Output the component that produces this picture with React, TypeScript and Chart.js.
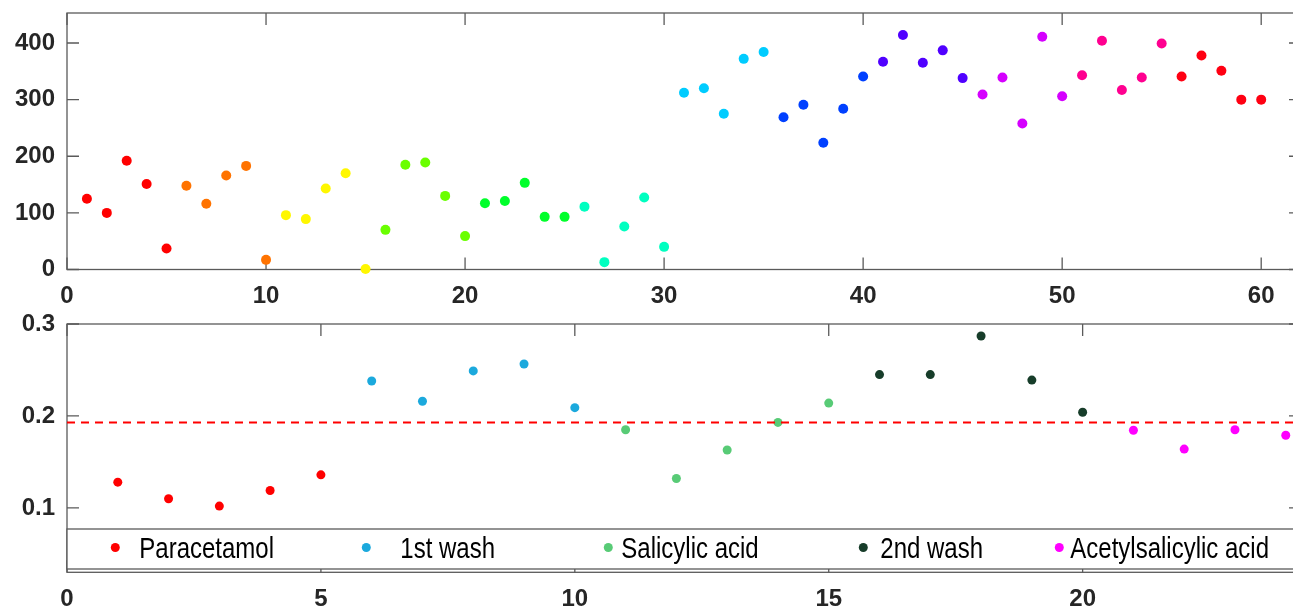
import React, { useEffect, useRef } from "react";
import { Chart, registerables } from "chart.js";

Chart.register(...registerables);

// ---------- Top panel data ----------
const TOP_X = [
  1, 2, 3, 4, 5, 6, 7, 8, 9, 10, 11, 12, 13, 14, 15, 16, 17, 18, 19, 20,
  21, 22, 23, 24, 25, 26, 27, 28, 29, 30, 31, 32, 33, 34, 35, 36, 37, 38, 39, 40,
  41, 42, 43, 44, 45, 46, 47, 48, 49, 50, 51, 52, 53, 54, 55, 56, 57, 58, 59, 60,
];
const TOP_Y = [
  125, 100, 192, 151, 37, 148, 116, 166, 183, 17,
  96, 89, 143, 170, 1, 70, 185, 189, 130, 59,
  117, 121, 153, 93, 93, 111, 13, 76, 127, 40,
  312, 320, 275, 372, 384, 269, 291, 224, 284, 341,
  367, 414, 365, 387, 338, 309, 339, 258, 411, 306,
  343, 404, 317, 339, 399, 341, 378, 351, 300, 300,
];
const TOP_GROUP_COLORS = [
  "#FF0000", "#FF7300", "#FFF700", "#6AFF00", "#00FF2B", "#00FFC0",
  "#00CCFF", "#0040FF", "#5000FF", "#D500FF", "#FF0090", "#FF0012",
];
const TOP_X_TICKS = [0, 10, 20, 30, 40, 50, 60];
const TOP_Y_TICKS = [0, 100, 200, 300, 400];
const TOP_X_RANGE = [0, 62];
const TOP_Y_RANGE = [0, 453];

// ---------- Bottom panel data ----------
const SERIES_NAMES = ["Paracetamol", "1st wash", "Salicylic acid", "2nd wash", "Acetylsalicylic acid"];
const PARACETAMOL_X = [1, 2, 3, 4, 5];
const PARACETAMOL_Y = [0.128, 0.11, 0.102, 0.119, 0.136];
const WASH1_X = [6, 7, 8, 9, 10];
const WASH1_Y = [0.238, 0.216, 0.249, 0.2565, 0.209];
const SALICYLIC_X = [11, 12, 13, 14, 15];
const SALICYLIC_Y = [0.185, 0.132, 0.163, 0.193, 0.214];
const WASH2_X = [16, 17, 18, 19, 20];
const WASH2_Y = [0.245, 0.245, 0.287, 0.239, 0.204];
const ACETYL_X = [21, 22, 23, 24];
const ACETYL_Y = [0.1845, 0.164, 0.185, 0.179];
const THRESHOLD = 0.193;
const BOTTOM_X_TICKS = [0, 5, 10, 15, 20];
const BOTTOM_Y_TICKS = [0.1, 0.2, 0.3];
const BOTTOM_X_RANGE = [0, 24.3];
const BOTTOM_Y_RANGE = [0.03, 0.3];
const SERIES_COLORS = ["#FF0000", "#1BA9DD", "#58CB76", "#173D2A", "#FF00FF"];

const FONT = "'Liberation Sans', Arial, Helvetica, sans-serif";
const AXIS_COLOR = "#5a5a5a";
const TEXT_COLOR = "#262626";
const TICK_LEN = 12;

const boxPlugin = {
  id: "boxTicks",
  beforeDatasetsDraw(chart: any, _args: any, opts: any) {
    const { ctx, chartArea: a, scales } = chart;
    ctx.save();
    ctx.strokeStyle = AXIS_COLOR;
    ctx.lineWidth = 1.3;
    ctx.strokeRect(a.left, a.top, a.right - a.left, a.bottom - a.top);
    ctx.beginPath();
    for (const v of opts.xTicks) {
      const px = scales.x.getPixelForValue(v);
      ctx.moveTo(px, a.bottom);
      ctx.lineTo(px, a.bottom - TICK_LEN);
      ctx.moveTo(px, a.top);
      ctx.lineTo(px, a.top + TICK_LEN);
    }
    for (const v of opts.yTicks) {
      const py = scales.y.getPixelForValue(v);
      ctx.moveTo(a.left, py);
      ctx.lineTo(a.left + TICK_LEN, py);
      ctx.moveTo(a.right, py);
      ctx.lineTo(a.right - TICK_LEN, py);
    }
    ctx.stroke();
    ctx.restore();
  },
};

const LEGEND_MARKER_OFFSETS = [48.3, 299.3, 541.3, 796.3, 992.3];
const LEGEND_TEXT_OFFSETS = [72.3, 333.3, 554.3, 813.3, 1003.3];

const insideLegendPlugin = {
  id: "insideLegend",
  afterDatasetsDraw(chart: any) {
    const { ctx, chartArea: a } = chart;
    const top = a.bottom - 43.3;
    const bottom = a.bottom - 3.3;
    ctx.save();
    ctx.fillStyle = "#ffffff";
    ctx.fillRect(a.left, top, a.right - a.left, bottom - top);
    ctx.strokeStyle = AXIS_COLOR;
    ctx.lineWidth = 1.3;
    ctx.strokeRect(a.left, top, a.right - a.left, bottom - top);
    const items = chart.data.datasets.filter((d: any) => d.isSeries);
    items.forEach((d: any, i: number) => {
      const mx = a.left + LEGEND_MARKER_OFFSETS[i];
      const my = a.bottom - 24.8;
      ctx.beginPath();
      ctx.fillStyle = d.backgroundColor;
      ctx.arc(mx, my, 4.5, 0, Math.PI * 2);
      ctx.fill();
      ctx.save();
      ctx.translate(a.left + LEGEND_TEXT_OFFSETS[i], a.bottom - 14);
      ctx.scale(1, 1.2);
      ctx.fillStyle = "#000000";
      ctx.font = `24px ${FONT}`;
      ctx.textBaseline = "alphabetic";
      ctx.textAlign = "left";
      ctx.fillText(d.label, 0, 0);
      ctx.restore();
    });
    ctx.restore();
  },
};

function zeroPad(s: any) {
  s.paddingTop = 0;
  s.paddingBottom = 0;
  s.paddingLeft = 0;
  s.paddingRight = 0;
}

function axisX(range: number[], ticks: number[], height: number, pad: number) {
  return {
    type: "linear",
    position: "bottom",
    min: range[0],
    max: range[1],
    grid: { display: false, drawTicks: false },
    border: { display: false },
    afterBuildTicks: (s: any) => {
      s.ticks = ticks.map((v) => ({ value: v }));
    },
    afterFit: (s: any) => {
      s.height = height;
      zeroPad(s);
    },
    ticks: {
      padding: pad,
      maxRotation: 0,
      autoSkip: false,
      color: TEXT_COLOR,
      font: { family: FONT, size: 24, weight: "bold", lineHeight: 1.2 },
      callback: (v: any) => String(v),
    },
  };
}

function axisY(range: number[], ticks: number[], width: number, pad: number) {
  return {
    type: "linear",
    position: "left",
    min: range[0],
    max: range[1],
    grid: { display: false, drawTicks: false },
    border: { display: false },
    afterBuildTicks: (s: any) => {
      s.ticks = ticks.map((v) => ({ value: v }));
    },
    afterFit: (s: any) => {
      s.width = width;
      zeroPad(s);
    },
    ticks: {
      padding: pad,
      autoSkip: false,
      color: TEXT_COLOR,
      font: { family: FONT, size: 24, weight: "bold", lineHeight: 1 },
      callback: (v: any) => String(v),
    },
  };
}

export default function App() {
  const topRef = useRef<HTMLCanvasElement>(null);
  const botRef = useRef<HTMLCanvasElement>(null);

  useEffect(() => {
    const topColors = TOP_X.map((_, i) => TOP_GROUP_COLORS[Math.floor(i / 5)]);
    const top = new Chart(topRef.current as HTMLCanvasElement, {
      type: "scatter",
      data: {
        datasets: [
          {
            label: "signal",
            data: TOP_X.map((x, i) => ({ x, y: TOP_Y[i] })),
            backgroundColor: topColors,
            pointBackgroundColor: topColors,
            pointBorderWidth: 0,
            borderWidth: 0,
            pointRadius: 5,
            clip: false,
          } as any,
        ],
      },
      options: {
        responsive: false,
        animation: false,
        devicePixelRatio: 1,
        layout: { padding: { left: 0, top: 13, right: 29, bottom: 0 } },
        plugins: {
          legend: { display: false },
          tooltip: { enabled: false },
          boxTicks: { xTicks: TOP_X_TICKS, yTicks: TOP_Y_TICKS },
        } as any,
        scales: {
          x: axisX(TOP_X_RANGE, TOP_X_TICKS, 40.5, 12),
          y: axisY(TOP_Y_RANGE, TOP_Y_TICKS, 67, 12),
        } as any,
      },
      plugins: [boxPlugin],
    });

    const series = [
      [PARACETAMOL_X, PARACETAMOL_Y],
      [WASH1_X, WASH1_Y],
      [SALICYLIC_X, SALICYLIC_Y],
      [WASH2_X, WASH2_Y],
      [ACETYL_X, ACETYL_Y],
    ];
    const bot = new Chart(botRef.current as HTMLCanvasElement, {
      type: "scatter",
      data: {
        datasets: [
          {
            type: "line",
            label: "threshold",
            data: [
              { x: BOTTOM_X_RANGE[0], y: THRESHOLD },
              { x: BOTTOM_X_RANGE[1], y: THRESHOLD },
            ],
            borderColor: "#FF0000",
            borderWidth: 2,
            borderDash: [8, 6],
            pointRadius: 0,
            showLine: true,
            fill: false,
            order: -1,
          } as any,
          ...series.map(([xs, ys], k) => ({
            label: SERIES_NAMES[k],
            isSeries: true,
            data: xs.map((x, i) => ({ x, y: ys[i] })),
            backgroundColor: SERIES_COLORS[k],
            pointBackgroundColor: SERIES_COLORS[k],
            pointBorderWidth: 0,
            borderWidth: 0,
            pointRadius: 4.5,
            clip: false,
            order: 1,
          })) as any,
        ],
      },
      options: {
        responsive: false,
        animation: false,
        devicePixelRatio: 1,
        layout: { padding: { left: 0, top: 14, right: 29, bottom: 0 } },
        plugins: {
          legend: { display: false },
          tooltip: { enabled: false },
          boxTicks: { xTicks: BOTTOM_X_TICKS, yTicks: BOTTOM_Y_TICKS },
        } as any,
        scales: {
          x: axisX(BOTTOM_X_RANGE, BOTTOM_X_TICKS, 39.7, 13),
          y: axisY(BOTTOM_Y_RANGE, BOTTOM_Y_TICKS, 67, 12),
        } as any,
      },
      plugins: [boxPlugin, insideLegendPlugin],
    });

    return () => {
      top.destroy();
      bot.destroy();
    };
  }, []);

  return (
    <div
      style={{
        position: "fixed",
        left: 0,
        top: 0,
        width: 1293,
        height: 612,
        overflow: "hidden",
        background: "#ffffff",
      }}
    >
      <canvas
        ref={topRef}
        width={1330}
        height={310}
        style={{ position: "absolute", left: 0, top: 0, width: 1330, height: 310 }}
      />
      <canvas
        ref={botRef}
        width={1330}
        height={302}
        style={{ position: "absolute", left: 0, top: 310, width: 1330, height: 302 }}
      />
    </div>
  );
}
